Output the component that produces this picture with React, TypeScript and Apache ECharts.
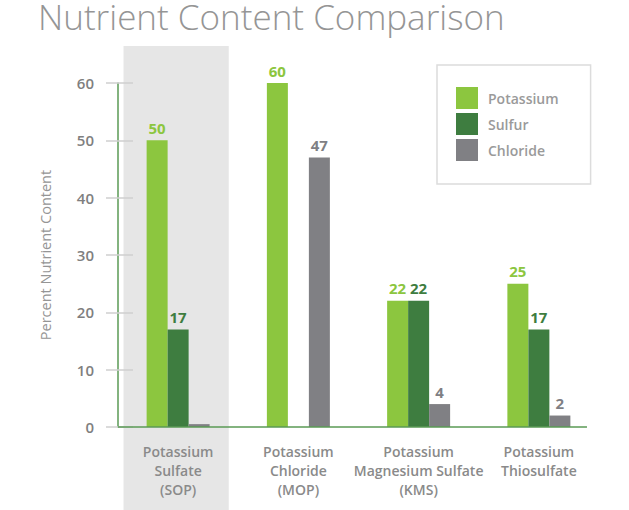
import React, { useEffect, useRef } from "react";
import * as echarts from "echarts";

const titleText = "Nutrient Content Comparison";
const yAxisName = "Percent Nutrient Content";
const categories = [
  "Potassium\nSulfate\n(SOP)",
  "Potassium\nChloride\n(MOP)",
  "Potassium\nMagnesium Sulfate\n(KMS)",
  "Potassium\nThiosulfate",
];
const seriesNames = ["Potassium", "Sulfur", "Chloride"];
const potassium = [50, 60, 22, 25];
const sulfur = [17, 0, 22, 17];
const chloride = [0.5, 47, 4, 2];
const yMin = 0;
const yMax = 60;
const yInterval = 10;
const highlightIndex = 0;

const FONT = "'Open Sans', 'Noto Sans', sans-serif";
const colors = ["#8cc63f", "#3e7d40", "#808084"];
const labelColors = ["#8cc63f", "#3e7d40", "#7f7f84"];

export default function App() {
  const ref = useRef<HTMLDivElement>(null);
  useEffect(() => {
    if (!ref.current) return;
    const chart = echarts.init(ref.current, undefined, { renderer: "svg" });
    const dataSets = [potassium, sulfur, chloride];
    chart.setOption({
      animation: false,
      backgroundColor: "#ffffff",
      textStyle: { fontFamily: FONT },
      title: {
        text: titleText,
        left: 38,
        top: 0,
        padding: 0,
        textStyle: { fontFamily: FONT, fontSize: 35, lineHeight: 32, fontWeight: 300, color: "#959595" },
      },
      legend: {
        orient: "vertical",
        left: 437,
        top: 65,
        padding: [22, 32, 23, 19],
        borderColor: "#dcdcdc",
        borderWidth: 1.5,
        itemWidth: 22,
        itemHeight: 22,
        itemGap: 4,
        icon: "rect",
        data: seriesNames,
        textStyle: { fontFamily: FONT, fontSize: 14, fontWeight: 600, color: "#9a9a9a", padding: [0, 0, 0, 5] },
      },
      grid: { left: 118, right: 30, top: 83, bottom: 83 },
      xAxis: {
        type: "category",
        data: categories,
        axisLine: { show: false },
        axisTick: { show: false },
        axisLabel: {
          margin: 15,
          interval: 0,
          fontFamily: FONT,
          fontSize: 14,
          fontWeight: 600,
          color: "#8a8a8a",
          lineHeight: 19,
          verticalAlign: "top",
        },
      },
      yAxis: [
        {
          type: "value",
          min: yMin,
          max: yMax,
          interval: yInterval,
          name: yAxisName,
          nameLocation: "middle",
          nameGap: 65,
          nameTextStyle: { fontFamily: FONT, fontSize: 14.5, fontWeight: 500, color: "#959595" },
          axisLine: { show: true, lineStyle: { color: "#5a9a55", width: 1.5 } },
          axisTick: { show: true, length: 12, lineStyle: { color: "#cfcfcf", width: 1.5 } },
          axisLabel: { margin: 24, fontFamily: FONT, fontSize: 15, fontWeight: 600, color: "#7f7f7f" },
          splitLine: { show: false },
        },
        {
          type: "value",
          position: "left",
          min: yMin,
          max: yMax,
          interval: yInterval,
          axisLine: { show: false },
          axisTick: { show: true, inside: true, length: 15, lineStyle: { color: "#cfcfcf", width: 1.5 } },
          axisLabel: { show: false },
          splitLine: { show: false },
        },
      ],
      series: seriesNames.map((name, i) => ({
        name,
        type: "bar",
        data: dataSets[i],
        barWidth: 21,
        barGap: "0%",
        itemStyle: { color: colors[i] },
        z: 3,
        label: {
          show: true,
          position: "top",
          distance: 5,
          fontFamily: FONT,
          fontSize: 15,
          fontWeight: 700,
          color: labelColors[i],
          formatter: (p: any) => (p.value >= 1 ? String(p.value) : ""),
        },
      })),
    });

    const c0 = chart.convertToPixel({ xAxisIndex: 0 }, 0) as number;
    const c1 = chart.convertToPixel({ xAxisIndex: 0 }, 1) as number;
    const band = c1 - c0;
    const hc = chart.convertToPixel({ xAxisIndex: 0 }, highlightIndex) as number;
    const lastC = chart.convertToPixel({ xAxisIndex: 0 }, categories.length - 1) as number;
    const y0 = chart.convertToPixel({ yAxisIndex: 0 }, 0) as number;
    const xLeft = hc - band / 2;
    const hw = band * 0.875;
    chart.setOption({
      graphic: [
        {
          type: "rect",
          z: -10,
          silent: true,
          shape: { x: hc - hw / 2 - 2, y: 46, width: hw, height: 510 - 46 },
          style: { fill: "#e6e6e6" },
        },
        {
          type: "line",
          z: 100,
          silent: true,
          shape: { x1: xLeft, y1: y0, x2: lastC + band * 0.4, y2: y0 },
          style: { stroke: "#5a9a55", lineWidth: 1.5 },
        },
      ],
    });

    return () => chart.dispose();
  }, []);
  return (
    <div
      ref={ref}
      style={{ position: "fixed", left: 0, top: 0, width: 629, height: 510 }}
    />
  );
}
